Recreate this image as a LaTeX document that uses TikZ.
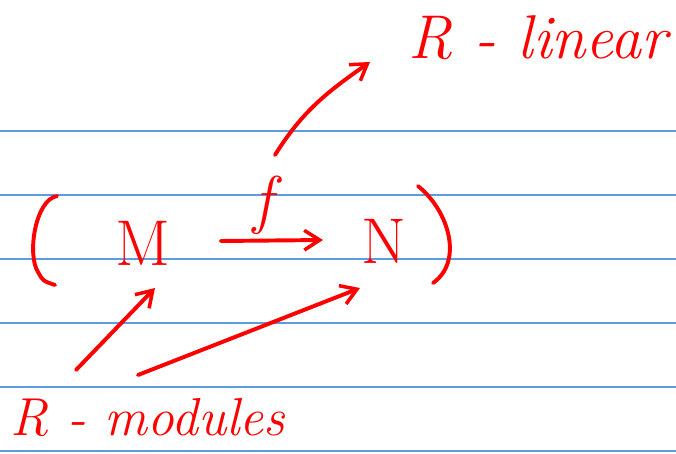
\documentclass[tikz,border=0pt]{standalone}
\usepackage{fontspec}
\usetikzlibrary{arrows.meta,positioning,calc}
\definecolor{inkred}{RGB}{255,0,0}
\definecolor{ruleblue}{RGB}{95,155,225}
\tikzset{
 ink/.style={draw=inkred,line width=2.8pt,line cap=round,line join=round},
 ink arrow/.style={ink,-{Straight Barb[length=11pt,width=14pt,line width=2.5pt]}},
 rule line/.style={draw=ruleblue,line width=.8pt},
 hand text/.style={text=inkred,inner sep=0pt,font=\fontsize{44}{46}\selectfont\itshape},
 hand letter/.style={text=inkred,inner sep=0pt,font=\fontsize{46}{48}\selectfont}
}

\begin{document}
\begin{tikzpicture}[x=0.025cm,y=-0.025cm]
\useasboundingbox (0,0) rectangle (676,453);
\foreach \yy in {131,195,259,323,387,451}
  \draw[rule line] (0,\yy)--(676,\yy);
\node[hand text] (linear) at (538,38) {R - linear};
\node[hand text,font=\fontsize{38}{40}\selectfont\itshape] (modules) at (148,418) {R - modules};
\node[hand letter] (M) at (143,243) {M};
\node[hand letter] (N) at (384,241) {N};
\node[hand letter,font=\fontsize{46}{48}\selectfont\itshape] (f) at (263,205) {f};
\draw[ink] (57,196) .. controls (35,200) and (27,255) .. (38,272)
  .. controls (43,281) .. (55,285);
\draw[ink] (418,186) .. controls (450,212) and (463,262) .. (433,283);
\draw[ink arrow] (M.east)++(50,-2) coordinate (fstart) -- (323,240) coordinate (fend);
\coordinate (up) at (275,155);
\draw[ink arrow] (up) to[out=58,in=215] (370,62);
\coordinate (toM) at (155,288);
\coordinate (toN) at (360,288);
\draw[ink arrow] (76,370)--(toM);
\draw[ink arrow] (138,375)--(toN);
\end{tikzpicture}
\end{document}
